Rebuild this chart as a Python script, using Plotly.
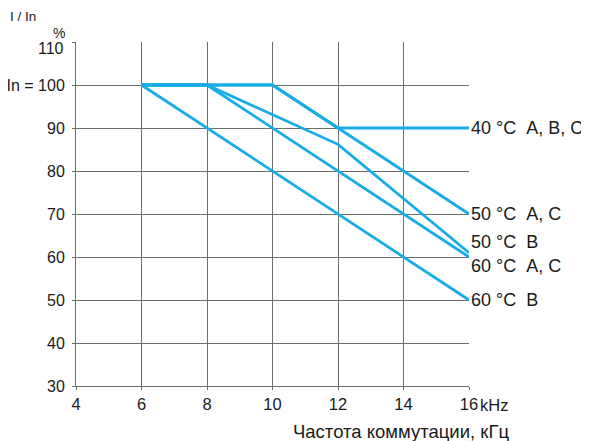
import plotly.graph_objects as go

# Data (frequency kHz, I/In %)
x_40_abc = [6, 10, 12, 16]
y_40_abc = [100, 100, 90, 90]
x_50_ac = [6, 10, 16]
y_50_ac = [100, 100, 70]
x_50_b = [6, 8, 12, 16]
y_50_b = [100, 100, 86.2, 61]
x_60_ac = [6, 8, 16]
y_60_ac = [100, 100, 60]
x_60_b = [6, 16]
y_60_b = [100, 50]

series = [
    ("40\u00a0°C\u00a0\u00a0A, B, C", x_40_abc, y_40_abc, 90),
    ("50\u00a0°C\u00a0\u00a0A, C", x_50_ac, y_50_ac, 70),
    ("50\u00a0°C\u00a0\u00a0B", x_50_b, y_50_b, 63.4),
    ("60\u00a0°C\u00a0\u00a0A, C", x_60_ac, y_60_ac, 58),
    ("60\u00a0°C\u00a0\u00a0B", x_60_b, y_60_b, 50),
]

x_ticks = [4, 6, 8, 10, 12, 14, 16]
y_ticks = [30, 40, 50, 60, 70, 80, 90, 100, 110]
y_ticktext = ["30", "40", "50", "60", "70", "80", "90", "In = 100", ""]
top_tick_label = "110"

LINE = "#16ADE6"
GRID = "#6e6e6e"
TXT = "#1a1a1a"
FONT = "Liberation Sans, Arial, sans-serif"

# plot area in page pixels (page has 8px body margin)
PX0, PX1, PY0, PY1 = 76, 469, 42, 386
PW, PH = PX1 - PX0, PY1 - PY0


def px(xp):
    return (xp - PX0) / PW


def py(yp):
    return (PY1 - yp) / PH


fig = go.Figure()
for name, xs, ys, ly in series:
    fig.add_trace(go.Scatter(x=xs, y=ys, mode="lines", name=name,
                             line=dict(color=LINE, width=2.8),
                             showlegend=False, hoverinfo="skip"))

annotations = []
for name, xs, ys, ly in series:
    annotations.append(dict(x=16, y=ly, xref="x", yref="y", text=name,
                            showarrow=False, xanchor="left", yanchor="middle",
                            xshift=0, font=dict(size=18, color=TXT, family=FONT)))

annotations += [
    dict(x=16, y=30, xref="x", yref="y", text="kHz", showarrow=False,
         xanchor="left", yanchor="middle", xshift=9, yshift=-19,
         font=dict(size=16.5, color=TXT, family=FONT)),
    dict(x=px(511), y=py(431), xref="paper", yref="paper",
         text="Частота коммутации, кГц", showarrow=False,
         xanchor="right", yanchor="middle",
         font=dict(size=18.5, color=TXT, family=FONT)),
    dict(x=px(67), y=py(33), xref="paper", yref="paper",
         text="%", showarrow=False, xanchor="right", yanchor="middle",
         font=dict(size=14, color=TXT, family=FONT)),
    dict(x=px(66), y=py(48), xref="paper", yref="paper",
         text=top_tick_label, showarrow=False, xanchor="right", yanchor="middle",
         font=dict(size=16, color=TXT, family=FONT)),
    dict(x=px(9), y=py(8.5), xref="paper", yref="paper",
         text="I / In", showarrow=False, xanchor="left", yanchor="top",
         borderpad=0, font=dict(size=13.5, color=TXT, family=FONT)),
]

fig.update_layout(
    width=581, height=433,
    margin=dict(l=PX0 - 8, r=581 - (PX1 - 8), t=PY0 - 8, b=433 - (PY1 - 8)),
    paper_bgcolor="white", plot_bgcolor="white",
    font=dict(family=FONT, size=16, color=TXT),
    annotations=annotations,
)
fig.update_xaxes(range=[4, 16], tickvals=x_ticks, ticktext=[str(v) for v in x_ticks],
                 showgrid=True, gridcolor=GRID, gridwidth=1,
                 showline=True, linecolor=GRID, linewidth=1,
                 ticks="outside", ticklen=3, tickcolor=GRID, automargin=False,
                 zeroline=False, tickfont=dict(size=16.5))
fig.update_yaxes(range=[30, 110], tickvals=y_ticks, ticktext=y_ticktext,
                 showgrid=True, gridcolor=GRID, gridwidth=1,
                 showline=True, linecolor=GRID, linewidth=1,
                 ticks="outside", ticklen=3, tickcolor=GRID, automargin=False,
                 zeroline=False, tickfont=dict(size=16), ticklabelstandoff=4)

fig.write_html("out.html")
